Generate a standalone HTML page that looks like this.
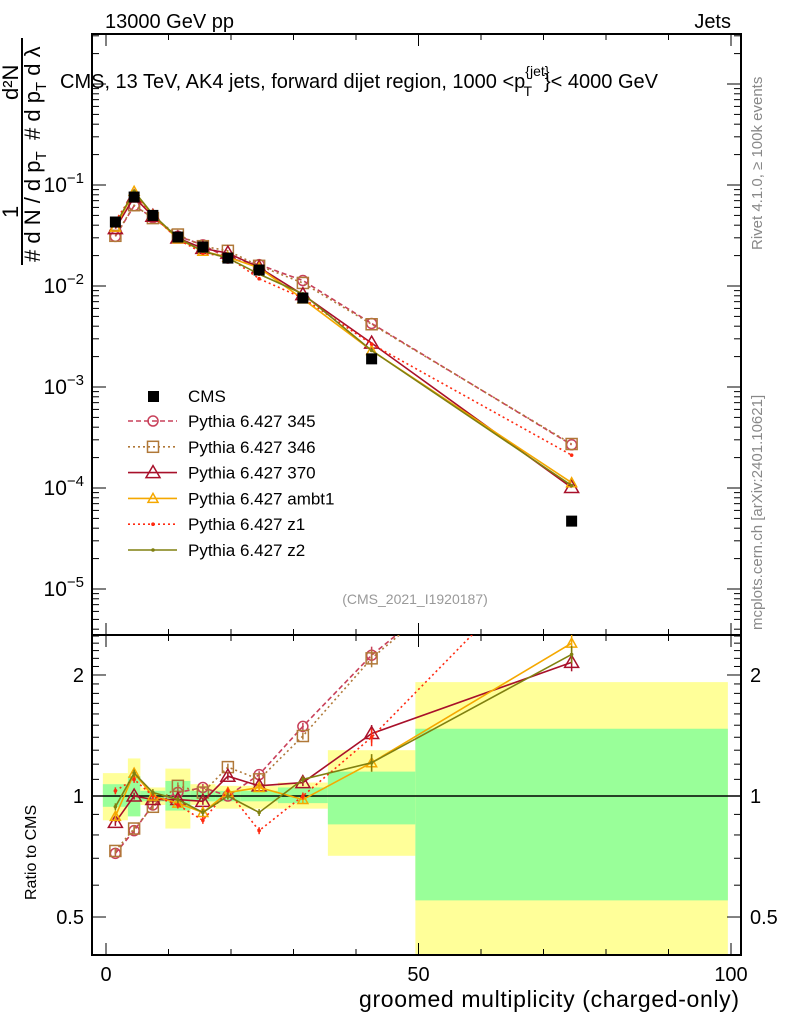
<!DOCTYPE html>
<html><head><meta charset="utf-8"><style>
body{margin:0;background:#fff;}
svg{display:block;font-family:"Liberation Sans",sans-serif;}
</style></head><body>
<svg id="chart" width="786" height="1024" viewBox="0 0 786 1024" xmlns="http://www.w3.org/2000/svg">
<defs>
<clipPath id="clipTop"><rect x="92" y="34" width="649" height="601"/></clipPath>
<clipPath id="clipBot"><rect x="92" y="635" width="649" height="320"/></clipPath>
</defs>
<g id="bands" clip-path="url(#clipBot)"></g>
<g id="axes"></g>
<g id="series"></g>
<text x="105" y="28" font-size="20">13000 GeV pp</text>
<text x="731" y="28" font-size="20" text-anchor="end">Jets</text>
<text x="60" y="88" font-size="20">CMS, 13 TeV, AK4 jets, forward dijet region, 1000 &lt;p<tspan font-size="14" dy="-12">{jet}</tspan><tspan font-size="14" dx="-26" dy="20">T</tspan><tspan dy="-8" dx="12">}&lt; 4000 GeV</tspan></text>
<text x="415" y="604" font-size="14" fill="#999" text-anchor="middle">(CMS_2021_I1920187)</text>
<text transform="translate(762,250) rotate(-90)" font-size="15" fill="#888">Rivet 4.1.0, ≥ 100k events</text>
<text transform="translate(762,630) rotate(-90)" font-size="15" fill="#888">mcplots.cern.ch [arXiv:2401.10621]</text>
<g font-size="22">
<text transform="translate(18,218) rotate(-90)">1</text>
<text transform="translate(18,100) rotate(-90)">d²N</text>
<line x1="22" y1="38" x2="22" y2="265" stroke="#000" stroke-width="2"/>
<text transform="translate(40,262) rotate(-90)">#  d N / d p<tspan font-size="15" dy="6">T</tspan></text>
<text transform="translate(40,140) rotate(-90)"># d p<tspan font-size="15" dy="6">T</tspan><tspan dy="-6"> d λ</tspan></text>
</g>
<text transform="translate(36,900) rotate(-90)" font-size="16">Ratio to CMS</text>
<text x="739" y="1007" font-size="23" text-anchor="end" textLength="380">groomed multiplicity (charged-only)</text>
<g id="legend"></g>
</svg>
<script>
const xCenters=[1.5,4.5,7.5,11.5,15.5,19.5,24.5,31.5,42.5,74.5];
const binEdges=[-0.5,3.5,5.5,9.5,13.5,17.5,21.5,27.5,35.5,49.5,99.5];
const cmsValues=[0.043,0.076,0.050,0.0305,0.0243,0.0189,0.0144,0.0076,0.0019,0.000047];
const ratio345=[0.72,0.82,0.95,1.02,1.05,1.00,1.13,1.49,2.24,5.7];
const ratio346=[0.73,0.83,0.94,1.06,1.02,1.18,1.10,1.41,2.20,5.8];
const ratio370=[0.86,1.00,0.98,0.98,0.97,1.12,1.06,1.08,1.43,2.15];
const ratioAmbt1=[0.89,1.14,1.00,0.96,0.91,1.02,1.05,0.98,1.21,2.40];
const ratioZ1=[1.03,1.10,1.00,0.95,0.87,1.03,0.82,1.00,1.40,4.5];
const ratioZ2=[0.94,1.14,1.02,0.98,0.91,1.00,0.91,1.10,1.21,2.25];
const greenHi=[1.07,1.12,1.03,1.09,1.03,1.03,1.03,1.05,1.15,1.47];
const greenLo=[0.94,0.89,0.97,0.92,0.97,0.97,0.97,0.96,0.85,0.55];
const yellowHi=[1.14,1.24,1.05,1.17,1.07,1.06,1.06,1.08,1.30,1.92];
const yellowLo=[0.87,0.89,0.95,0.83,0.95,0.93,0.93,0.93,0.71,0.30];
const xTicks=[0,50,100];
const yTopTickExps=[-5,-4,-3,-2,-1];
const ratioTicks=[0.5,1,2];
const seriesNames=["Pythia 6.427 345","Pythia 6.427 346","Pythia 6.427 370","Pythia 6.427 ambt1","Pythia 6.427 z1","Pythia 6.427 z2"];

const NS="http://www.w3.org/2000/svg";
const X=v=>106+v*6.25;
const Yt=v=>185-(Math.log10(v)+1)*101;
const Yr=v=>796-Math.log10(v)*402;
function mk(tag,attrs,parent){const e=document.createElementNS(NS,tag);for(const k in attrs)e.setAttribute(k,attrs[k]);parent.appendChild(e);return e;}
const bands=document.getElementById('bands'),axes=document.getElementById('axes'),ser=document.getElementById('series'),leg=document.getElementById('legend');

for(let i=0;i<xCenters.length;i++){
 const x0=X(binEdges[i]),x1=X(binEdges[i+1]);
 let r=mk('rect',{x:x0,y:Yr(yellowHi[i]),width:x1-x0,height:Yr(yellowLo[i])-Yr(yellowHi[i]),fill:'#ffff99'},bands);
 
 
 r=mk('rect',{x:x0,y:Yr(greenHi[i]),width:x1-x0,height:Yr(greenLo[i])-Yr(greenHi[i]),fill:'#99ff99'},bands);
 
 
}
mk('rect',{x:92,y:34,width:649,height:601,fill:'none',stroke:'#000','stroke-width':2},axes);
mk('rect',{x:92,y:635,width:649,height:320,fill:'none',stroke:'#000','stroke-width':2},axes);
mk('line',{x1:92,y1:Yr(1),x2:741,y2:Yr(1),stroke:'#000','stroke-width':1.5},axes);
for(let v=0;v<=100;v+=10){const maj=v%50==0;const L=maj?12:6;
 mk('line',{x1:X(v),y1:955,x2:X(v),y2:955-L,stroke:'#000'},axes);
 mk('line',{x1:X(v),y1:635,x2:X(v),y2:635+L,stroke:'#000'},axes);
 mk('line',{x1:X(v),y1:635,x2:X(v),y2:635-L,stroke:'#000'},axes);
 mk('line',{x1:X(v),y1:34,x2:X(v),y2:34+L,stroke:'#000'},axes);
}
xTicks.forEach(v=>{const t=mk('text',{x:X(v),y:981,'font-size':20,'text-anchor':'middle'},axes);t.textContent=v;
 
 });
for(let e=-6;e<=0;e++){for(let m=1;m<10;m++){const v=m*Math.pow(10,e);const y=Yt(v);if(y<34||y>635)continue;const L=m==1?14:7;
 mk('line',{x1:92,y1:y,x2:92+L,y2:y,stroke:'#000'},axes);mk('line',{x1:741,y1:y,x2:741-L,y2:y,stroke:'#000'},axes);}}
yTopTickExps.forEach(e=>{const t=mk('text',{x:84,y:Yt(Math.pow(10,e))+7,'font-size':21,'text-anchor':'end'},axes);
 t.innerHTML='10<tspan font-size="15" dy="-9">−'+Math.abs(e)+'</tspan>';
 
 });
[0.4,0.5,0.6,0.7,0.8,0.9,1,1.1,1.2,1.3,1.4,1.5,1.6,1.7,1.8,1.9,2,2.1,2.2,2.3,2.4,2.5].forEach(v=>{const y=Yr(v);if(y<635||y>955)return;const L=ratioTicks.includes(v)?14:7;
 mk('line',{x1:92,y1:y,x2:92+L,y2:y,stroke:'#000'},axes);mk('line',{x1:741,y1:y,x2:741-L,y2:y,stroke:'#000'},axes);});
ratioTicks.forEach(v=>{let t=mk('text',{x:84,y:Yr(v)+7,'font-size':20,'text-anchor':'end'},axes);t.textContent=v;
 
 
 t=mk('text',{x:750,y:Yr(v)+7,'font-size':20},axes);t.textContent=v;
 
 });

const styles=[
 {r:ratio345,c:'#c8405a',dash:'5,3',m:'circle',key:'345'},
 {r:ratio346,c:'#b07838',dash:'2,3',m:'square',key:'346'},
 {r:ratio370,c:'#a8102a',dash:'',m:'tri',key:'370'},
 {r:ratioAmbt1,c:'#f5a800',dash:'',m:'trismall',key:'ambt1'},
 {r:ratioZ1,c:'#ff2a10',dash:'2,3',m:'dot',key:'z1'},
 {r:ratioZ2,c:'#808010',dash:'',m:'dot',key:'z2'}];
function marker(g,m,x,y,c){
 if(m=='circle')mk('circle',{cx:x,cy:y,r:5,fill:'none',stroke:c,'stroke-width':1.5},g);
 else if(m=='square')mk('rect',{x:x-5.5,y:y-5.5,width:11,height:11,fill:'none',stroke:c,'stroke-width':1.5},g);
 else if(m=='tri')mk('polygon',{points:`${x},${y-7} ${x-7},${y+5} ${x+7},${y+5}`,fill:'none',stroke:c,'stroke-width':1.5},g);
 else if(m=='trismall')mk('polygon',{points:`${x},${y-5} ${x-5},${y+4} ${x+5},${y+4}`,fill:'none',stroke:c,'stroke-width':1.5},g);
 else mk('circle',{cx:x,cy:y,r:1.8,fill:c},g);
}
styles.forEach((s,k)=>{
 const g=mk('g',{},ser);
 
 
 const gt=mk('g',{'clip-path':'url(#clipTop)'},g),gb=mk('g',{'clip-path':'url(#clipBot)'},g);
 const ptsT=xCenters.map((x,i)=>X(x)+','+Yt(s.r[i]*cmsValues[i])).join(' ');
 const ptsB=xCenters.map((x,i)=>X(x)+','+Yr(s.r[i])).join(' ');
 mk('polyline',{points:ptsT,fill:'none',stroke:s.c,'stroke-width':1.6,'stroke-dasharray':s.dash},gt);
 mk('polyline',{points:ptsB,fill:'none',stroke:s.c,'stroke-width':1.6,'stroke-dasharray':s.dash},gb);
 xCenters.forEach((x,i)=>{marker(gt,s.m,X(x),Yt(s.r[i]*cmsValues[i]),s.c);marker(gb,s.m,X(x),Yr(s.r[i]),s.c);
   const e=i>=8?0.05:0.02; mk('line',{x1:X(x),y1:Yr(s.r[i]*(1+e)),x2:X(x),y2:Yr(s.r[i]*(1-e)),stroke:s.c,'stroke-width':1.5},gb);});
 const ly=421+k*25.8;
 mk('line',{x1:128,y1:ly,x2:177,y2:ly,stroke:s.c,'stroke-width':1.6,'stroke-dasharray':s.dash},leg);
 marker(leg,s.m,153,ly,s.c);
 const t=mk('text',{x:188,y:ly+6,'font-size':17},leg);t.textContent=seriesNames[k];
 
 
});
const gc=mk('g',{},ser);


xCenters.forEach((x,i)=>mk('rect',{x:X(x)-5.5,y:Yt(cmsValues[i])-5.5,width:11,height:11,fill:'#000'},gc));
mk('rect',{x:148,y:391,width:11,height:11,fill:'#000'},leg);
const tc=mk('text',{x:188,y:402,'font-size':17},leg);tc.textContent='CMS';


</script>
</body></html>
